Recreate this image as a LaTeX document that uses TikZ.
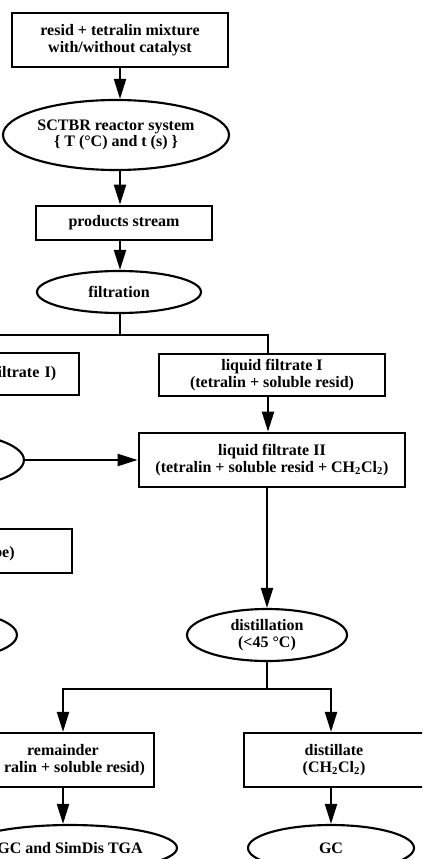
\documentclass[tikz,border=0pt]{standalone}
\usepackage{fontspec}
\setmainfont{Liberation Serif}
\usetikzlibrary{shapes.geometric,arrows.meta}

\tikzset{every picture/.style={line width=1.6pt}}
\tikzset{
  procbox/.style={draw, rectangle, inner sep=0.75pt, align=center, font=\bfseries\fontsize{12}{12.5}\selectfont},
  procoval/.style={draw, ellipse, inner sep=0pt, align=center, font=\bfseries\fontsize{12}{12.5}\selectfont},
  feed/.style={-{Triangle[length=15pt,width=9pt]}},
}

\begin{document}
\begin{tikzpicture}[x=0.75pt,y=0.75pt,yscale=-1,xscale=1]
\useasboundingbox (0,0) rectangle (422,859);
\clip (0,0) rectangle (422,859);

%Shape: Rectangle
\node [procbox, minimum width=162pt, minimum height=40.5pt] (mix) at (120,40) {resid + tetralin mixture\\with/without catalyst};
%Shape: Ellipse
\node [procoval, minimum width=169.5pt, minimum height=52.5pt] (reactor) at (116,135) {SCTBR reactor system\\\{ T (°C) and t (s) \}};
%Shape: Rectangle
\node [procbox, minimum width=132pt, minimum height=26pt] (stream) at (124,223) {products stream};
%Shape: Ellipse
\node [procoval, minimum width=123pt, minimum height=31.5pt] (filt) at (119,292) {filtration};

\coordinate (split) at (120,335);

%Shape: Rectangle
\node [procbox, anchor=east, align=right, text width=120pt, inner xsep=17pt, minimum height=32pt] (cake) at (80,374) {filtrate I)};
%Shape: Rectangle
\node [procbox, minimum width=169.5pt, minimum height=32pt] (lf1) at (272,375) {liquid filtrate I\\(tetralin + soluble resid)};
%Shape: Ellipse
\node [procoval, anchor=east, minimum width=127.5pt, minimum height=42pt] (wash) at (25,460) {};
%Shape: Rectangle
\node [procbox, minimum width=200pt, minimum height=41pt] (lf2) at (272,460) {liquid filtrate II\\(tetralin + soluble resid + CH\textsubscript{2}Cl\textsubscript{2})};
%Shape: Rectangle
\node [procbox, anchor=east, align=right, text width=100pt, inner xsep=43pt, minimum height=33pt] (tube) at (73,551) {\mbox{}\\be)};
%Shape: Ellipse
\node [procoval, anchor=east, minimum width=117pt, minimum height=37.5pt] (soxoval) at (18,635) {};
%Shape: Ellipse
\node [procoval, minimum width=120pt, minimum height=39pt] (dist) at (267,635) {distillation\\(<45 °C)};

\coordinate (split2) at (267,689);

%Shape: Rectangle
\node [procbox, minimum width=136.5pt, minimum height=40.5pt] (rem) at (63,760) {remainder\\\hphantom{(tet}ralin + soluble resid)};
%Shape: Rectangle
\node [procbox, minimum width=135pt, minimum height=40.5pt] (dst) at (334,760) {distillate\\(CH\textsubscript{2}Cl\textsubscript{2})};
%Shape: Ellipse
\node [procoval, minimum width=160.5pt, minimum height=34.5pt] (anal) at (70,848) {GC and SimDis TGA};
%Shape: Ellipse
\node [procoval, minimum width=124.5pt, minimum height=34.5pt] (gc) at (331,848) {GC};

%Straight Lines
\draw [feed] (mix.south) -- (mix.south |- reactor.north);
\draw [feed] (reactor.south -| mix.south) -- (stream.north -| mix.south);
\draw [feed] (stream.south -| mix.south) -- (filt.north -| mix.south);
\draw (filt.south -| split) -- (split);
\draw (split) -| (cake.north);
\draw (split) -| ([xshift=-3pt]lf1.north);
\draw [feed] ([xshift=-3pt]lf1.south) -- ([xshift=-3pt]lf1.south |- lf2.north);
\draw [feed] (wash.east) -- (lf2.west);
\draw [feed] (lf2.south -| dist) -- (dist.north);
\draw (dist.south) -- (split2);
\draw [feed] (split2) -| (rem.north);
\draw [feed] (split2) -| (gc.north |- dst.north);
\draw [feed] (rem.south) -- (rem.south |- anal.north);
\draw [feed] (gc.north |- dst.south) -- (gc.north);

\end{tikzpicture}
\end{document}
